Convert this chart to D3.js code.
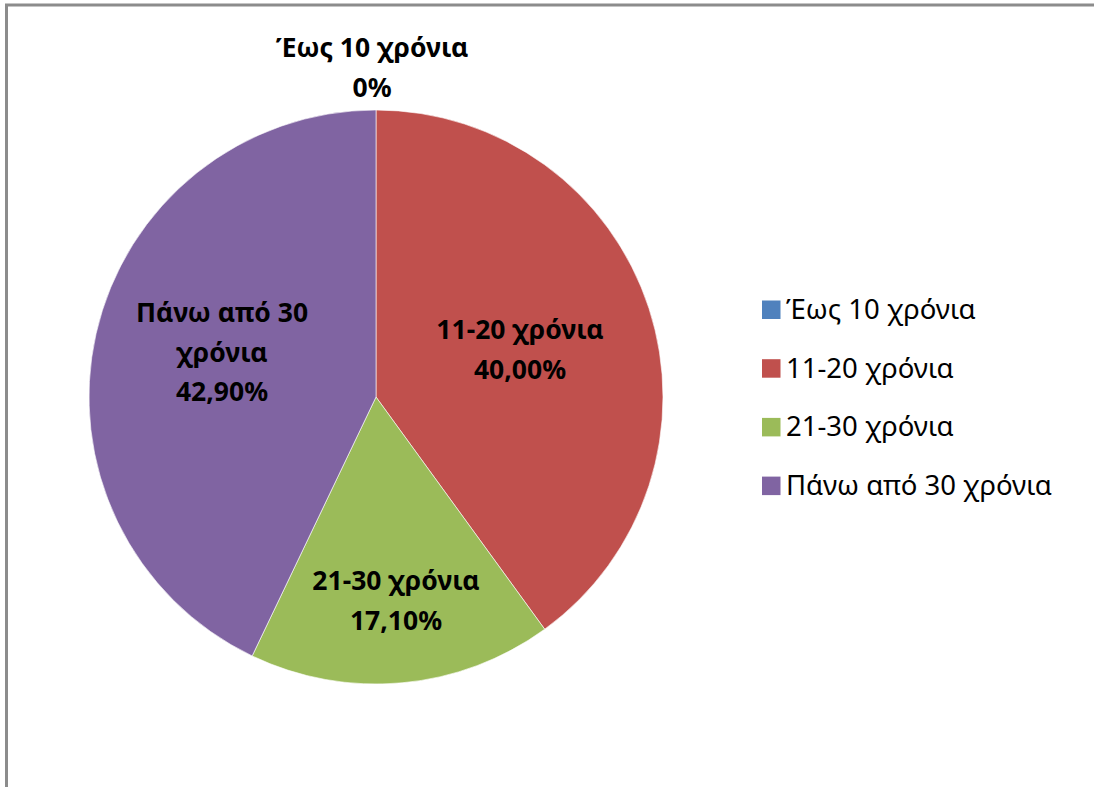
<!DOCTYPE html>
<html><head><meta charset="utf-8">
<script src="https://cdn.jsdelivr.net/npm/d3@7"></script>
<style>body{margin:0;background:#fff;} svg{display:block;}</style>
</head><body>
<svg id="chart" width="1094" height="787"></svg>
<script>
const categories = ["Έως 10 χρόνια", "11-20 χρόνια", "21-30 χρόνια", "Πάνω από 30 χρόνια"];
const values = [0, 40.0, 17.1, 42.9];
const valueLabels = ["0%", "40,00%", "17,10%", "42,90%"];
const colors = ["#4F81BD", "#C0504D", "#9BBB59", "#8064A2"];

const svg = d3.select("#chart");
const font = "'Noto Sans', sans-serif";

// frame
svg.append("rect").attr("x", 6.5).attr("y", 5).attr("width", 1200).attr("height", 900)
  .attr("fill", "none").attr("stroke", "#8c8c8c").attr("stroke-width", 3);

const cx = 376, cy = 397, r = 287;
const pie = d3.pie().sort(null).value(d => d)(values);
const arc = d3.arc().innerRadius(0).outerRadius(r);
const g = svg.append("g").attr("transform", `translate(${cx},${cy})`);
g.selectAll("path").data(pie).join("path")
  .attr("d", arc).attr("fill", (d, i) => colors[i])
  .attr("stroke", "#fff").attr("stroke-opacity", 0.6).attr("stroke-width", 1);

// data labels
const labelLines = [
  [categories[0], valueLabels[0]],
  [categories[1], valueLabels[1]],
  [categories[2], valueLabels[2]],
  ["Πάνω από 30", "χρόνια", valueLabels[3]]
];
const labelPos = [[372, 57], [520, 339], [396, 590], [222, 322]];
labelLines.forEach((lines, i) => {
  const t = svg.append("text").attr("text-anchor", "middle")
    .attr("font-family", font).attr("font-weight", "bold").attr("font-size", 26.5)
    .attr("fill", "#000");
  lines.forEach((l, j) => {
    t.append("tspan").attr("x", labelPos[i][0]).attr("y", labelPos[i][1] + j * 39.5).text(l);
  });
});

// legend
const lg = svg.append("g");
categories.forEach((c, i) => {
  const y = 319 + i * 58.7;
  lg.append("rect").attr("x", 762).attr("y", y - 18.5).attr("width", 18.5).attr("height", 18.5)
    .attr("fill", colors[i]);
  lg.append("text").attr("x", 786).attr("y", y)
    .attr("font-family", font).attr("font-size", 27.5).attr("fill", "#000").text(c);
});
</script>
</body></html>
